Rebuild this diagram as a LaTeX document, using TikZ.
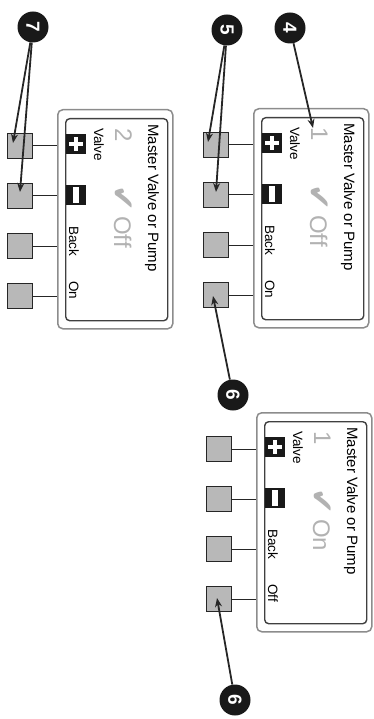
\documentclass[tikz,border=0pt]{standalone}
\usepackage{fontspec}
\setmainfont{Liberation Sans}
\newfontfamily\djv{DejaVu Sans}
\usetikzlibrary{arrows.meta}
\tikzset{
  outerbox/.style={draw=black!45, line width=1.5pt, rounded corners=5pt, minimum width=115pt, minimum height=219pt, inner sep=0, anchor=north west},
  innerbox/.style={draw=black!75, line width=1.4pt, rounded corners=4pt, inner sep=0, anchor=north west},
  btn/.style={draw=black!85, fill=black!28, line width=1.1pt, minimum size=25pt, inner sep=0},
  wire/.style={draw=black!85, line width=1pt},
  icon/.style={fill=black!90, minimum size=20pt, inner sep=0},
  ptitle/.style={rotate=-90, anchor=base west, inner sep=0, font=\fontsize{15}{15}\selectfont},
  small/.style={rotate=-90, anchor=base west, inner sep=0, font=\fontsize{13.5}{13.5}\selectfont},
  big/.style={rotate=-90, anchor=base west, inner sep=0, text=black!30, font=\fontsize{24}{24}\selectfont},
  badge/.style={circle, fill=black!90, minimum size=31pt, inner sep=0, text=white, rotate=-90, font=\bfseries\fontsize{19}{19}\selectfont},
  pointer/.style={draw=black!85, line width=1.8pt, -{Stealth[length=9pt,width=7pt]}}
}
\newcommand\drawpanel[6]{%
  % #1 prefix, #2 left, #3 top, #4 digit, #5 big word, #6 small word
  \node[outerbox] (#1out) at (#2,#3) {};
  \node[innerbox, minimum width=102pt, minimum height=202pt] (#1in) at ({#2+8},{#3+9}) {};
  \foreach \k/\dy in {1/37,2/87,3/137,4/187}{
    \node[btn] (#1b\k) at ({#2-37},{#3+\dy}) {};
    \draw[wire] (#1b\k.east) -- (#1b\k.east -| #1out.west);
  }
  \node[ptitle] (#1title) at ({#2+91},{#3+15}) {Master Valve or Pump};
  \node[big] (#1digit) at ({#2+58},{#3+19}) {#4};
  \node[small] (#1valve) at ({#2+37},{#3+19}) {Valve};
  \node[icon] (#1plus) at ({#2+19},{#3+35}) {};
  \fill[white] ({#2+17},{#3+28}) rectangle ({#2+21},{#3+42});
  \fill[white] ({#2+12},{#3+33}) rectangle ({#2+26},{#3+37});
  \node[icon] (#1minus) at ({#2+19},{#3+86}) {};
  \fill[white] ({#2+16},{#3+78}) rectangle ({#2+22},{#3+94});
  \node[big, font=\djv\fontsize{31}{31}\selectfont] (#1check) at ({#2+55},{#3+76}) {✔};
  \node[big] (#1word) at ({#2+57},{#3+107}) {#5};
  \node[small] (#1back) at ({#2+12},{#3+117}) {Back};
  \node[small] (#1sw) at ({#2+12},{#3+172}) {#6};
}
\begin{document}
\begin{tikzpicture}[x=1pt,y=-1pt]
\useasboundingbox (0,0) rectangle (374,719);
\drawpanel{A}{57}{109}{2}{Off}{On}
\drawpanel{B}{253}{108}{1}{Off}{On}
\drawpanel{C}{256}{412}{1}{On}{Off}
% badges
\node[badge] (n7) at (33,27) {7};
\node[badge] (n5) at (227,30) {5};
\node[badge] (n4) at (290,28) {4};
\node[badge] (n6a) at (233,395) {6};
\node[badge] (n6b) at (235,700) {6};
% arrow targets
\coordinate (t7a) at (13,143);
\coordinate (t7b) at (20,192);
\coordinate (t5a) at (208,142);
\coordinate (t5b) at (216,192);
\coordinate (t4) at (313,128);
\coordinate (t6a) at (213,296);
\coordinate (t6b) at (217,598);
\draw[pointer] (n7) -- (t7a);
\draw[pointer] (n7) -- (t7b);
\draw[pointer] (n5) -- (t5a);
\draw[pointer] (n5) -- (t5b);
\draw[pointer] (n4) -- (t4);
\draw[pointer] (n6a) -- (t6a);
\draw[pointer] (n6b) -- (t6b);
\end{tikzpicture}
\end{document}
